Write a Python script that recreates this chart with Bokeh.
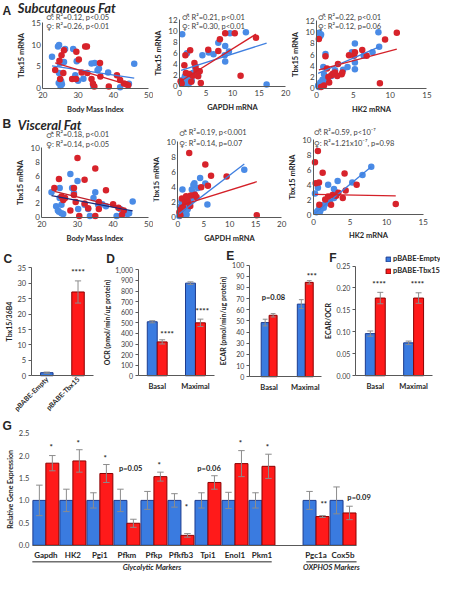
import math
import numpy as np
from bokeh.plotting import figure
from bokeh.models import (Range1d, FixedTicker, Label, Legend, LegendItem,
                          NumeralTickFormatter)
from bokeh.layouts import row, column
from bokeh.embed import file_html
from bokeh.resources import INLINE
from bokeh.core.properties import value

# ------------------------------------------------------------------ data
# Panel A  (subcutaneous fat)   blue = male, red = female
A_BMI_BLUE_X = [22.6, 24.3, 24.6, 24.8, 24.6, 24.5, 25.0, 25.4, 25.2, 26.3, 28.6, 29.6, 30.0, 29.2,
                33.8, 34.7, 35.9, 35.5, 34.3, 38.5, 41.9, 44.4, 45.9, 26.0, 31.5]
A_BMI_BLUE_Y = [7.2, 9.6, 9.9, 5.7, 3.5, 1.2, 0.5, 0.9, 1.6, 9.0, 9.0, 6.2, 1.7, 3.0,
                5.7, 5.8, 4.5, 4.1, 0.5, 3.6, 0.2, 1.0, 5.6, 6.0, 2.2]
A_BMI_RED_X = [23.5, 24.7, 25.3, 26.0, 24.9, 25.8, 29.5, 32.0, 32.5, 30.2, 28.3, 29.4, 31.0, 32.6,
               36.2, 33.8, 34.2, 34.6, 36.3, 38.7, 41.0, 41.9, 43.0, 43.6, 44.2]
A_BMI_RED_Y = [4.2, 6.3, 7.6, 8.7, 2.1, 3.5, 8.4, 9.6, 9.6, 6.6, 2.1, 2.1, 3.6, 3.5,
               5.8, 2.1, 1.0, 0.4, 2.7, 0.4, 3.0, 1.9, 1.1, 0.9, 0.7]
A_BMI_FIT_BLUE = (7.85, -0.121)   # intercept, slope
A_BMI_FIT_RED = (11.55, -0.244)
A_BMI_STATS = ["\u2642: R\u00b2=0.12, p<0.05", "\u2640: R\u00b2=0.26, p<0.01"]

A_GAPDH_BLUE_X = [0.5, 0.3, 0.6, 0.9, 1.0, 1.2, 1.4, 1.5, 1.7, 2.0, 2.5, 3.0, 3.5, 4.3, 5.5, 6.4,
                  7.3, 8.6, 8.5, 8.6, 9.5, 9.3, 12.5, 16.4, 2.3]
A_GAPDH_BLUE_Y = [9.4, 0.8, 1.2, 0.5, 1.8, 1.0, 6.0, 2.2, 0.4, 1.5, 2.4, 3.2, 2.0, 5.6, 6.1, 5.8,
                  7.9, 7.3, 5.6, 4.5, 9.6, 6.3, 9.8, 0.3, 1.0]
A_GAPDH_RED_X = [0.2, 0.4, 0.9, 1.1, 2.0, 1.2, 1.8, 2.5, 2.8, 3.2, 3.8, 3.5, 4.0, 2.2, 5.4, 7.3,
                 7.6, 8.6, 10.4, 11.5, 14.4, 3.0]
A_GAPDH_RED_Y = [0.9, 0.5, 3.8, 5.6, 6.5, 2.4, 2.2, 1.9, 4.2, 2.8, 2.7, 1.8, 0.6, 0.8, 6.6, 6.4,
                 8.5, 9.6, 9.6, 1.9, 8.8, 3.6]
A_GAPDH_FIT_BLUE = (2.79, 0.306)
A_GAPDH_FIT_RED = (0.78, 0.601)
A_GAPDH_STATS = ["\u2642: R\u00b2=0.21, p<0.01", "\u2640: R\u00b2=0.30, p<0.01"]

A_HK2_BLUE_X = [0.35, 0.6, 0.5, 1.2, 0.9, 0.2, 0.3, 0.5, 0.8, 1.0, 1.4, 1.6, 2.5, 3.6, 4.2, 4.8,
                5.2, 5.2, 5.2, 6.4, 7.6, 8.5, 8.4, 2.0, 1.0]
A_HK2_BLUE_Y = [9.9, 9.6, 9.3, 6.1, 3.8, 0.5, 0.2, 1.0, 1.5, 0.9, 1.8, 1.1, 3.2, 3.3, 3.8, 6.4,
                8.0, 4.6, 3.4, 5.8, 6.4, 7.4, 10.0, 2.2, 2.5]
A_HK2_RED_X = [0.3, 1.2, 1.4, 1.0, 2.0, 2.2, 2.5, 2.8, 3.4, 2.9, 3.5, 4.4, 5.1, 5.2, 6.2, 6.8,
               8.6, 9.3, 10.9, 1.7, 0.6, 1.6]
A_HK2_RED_Y = [8.8, 5.7, 3.5, 0.5, 2.3, 2.6, 2.8, 2.2, 2.5, 4.3, 2.8, 5.9, 5.8, 6.4, 6.8, 5.8,
               0.9, 8.7, 9.9, 1.0, 0.2, 2.0]
A_HK2_FIT_BLUE = (2.54, 0.571)
A_HK2_FIT_RED = (3.16, 0.352)
A_HK2_STATS = ["\u2642: R\u00b2=0.22, p<0.01", "\u2640: R\u00b2=0.12, p=0.06"]

# Panel B  (visceral fat)
B_BMI_BLUE_X = [22.7, 24.0, 24.5, 25.0, 25.0, 25.5, 25.5, 24.8, 26.0, 28.0, 28.5, 29.0, 30.0, 30.2,
                32.0, 33.0, 33.5, 34.5, 35.0, 35.8, 37.0, 38.0, 41.0, 42.0, 44.0, 44.5, 45.5]
B_BMI_BLUE_Y = [3.6, 1.6, 1.0, 4.2, 2.8, 1.8, 0.6, 0.8, 0.5, 6.2, 4.2, 3.5, 5.2, 1.2,
                1.8, 1.2, 0.2, 2.8, 3.6, 1.8, 1.9, 1.6, 0.2, 1.2, 0.5, 0.6, 2.3]
B_BMI_RED_X = [23.5, 24.8, 25.5, 26.0, 26.5, 28.0, 29.0, 29.0, 29.5, 30.0, 30.5, 32.0, 32.0, 33.0,
               35.0, 35.0, 36.0, 36.0, 38.0, 40.0, 41.5, 42.5, 43.0]
B_BMI_RED_Y = [4.2, 5.5, 3.0, 2.5, 2.8, 1.0, 3.2, 4.2, 2.2, 8.5, 0.2, 5.4, 2.0, 1.3,
               7.0, 0.2, 2.2, 1.2, 3.9, 1.9, 1.4, 0.4, 1.0]
B_BMI_FIT_BLUE = (5.30, -0.0955)
B_BMI_FIT_RED = (6.65, -0.124)
B_BMI_STATS = ["\u2642: R\u00b2=0.18, p<0.01", "\u2640: R\u00b2=0.14, p<0.05"]

B_GAPDH_BLUE_X = [4.3, 3.2, 3.0, 3.9, 5.3, 0.9, 2.7, 12.8, 5.7, 3.1, 0.3, 0.5, 0.8, 1.1, 1.4, 1.7,
                  0.4, 0.7, 1.0, 1.2, 1.9, 2.0, 2.4, 2.8, 1.5]
B_GAPDH_BLUE_Y = [5.2, 4.5, 4.3, 3.9, 4.5, 3.7, 3.7, 6.3, 1.7, 3.2, 0.2, 0.6, 0.4, 1.0, 1.3, 0.4,
                  1.4, 2.1, 1.7, 2.3, 1.1, 1.6, 2.2, 2.6, 0.8]
B_GAPDH_RED_X = [2.2, 5.3, 6.4, 4.5, 5.8, 9.4, 15.2, 0.8, 1.4, 1.9, 3.3, 2.5, 2.4, 0.6, 0.3, 1.0,
                 0.5, 3.6, 1.6]
B_GAPDH_RED_Y = [8.5, 7.0, 5.5, 4.0, 4.2, 5.4, 0.3, 2.5, 2.0, 2.2, 3.0, 2.9, 1.5, 1.1, 0.7, 1.3,
                 0.3, 2.7, 2.8]
B_GAPDH_FIT_BLUE = (0.35, 0.523)
B_GAPDH_FIT_RED = (1.48, 0.213)
B_GAPDH_STATS = ["\u2642: R\u00b2=0.19, p<0.001", "\u2640: R\u00b2=0.14, p=0.07"]

B_HK2_BLUE_X = [0.6, 0.2, 2.0, 3.3, 5.3, 6.7, 7.9, 2.8, 3.1, 0.4, 0.6, 0.8, 1.0, 1.2, 1.5, 1.7,
                2.0, 2.3, 2.6, 2.8, 3.0, 1.4, 0.9, 2.2]
B_HK2_BLUE_Y = [3.6, 2.8, 4.0, 4.5, 4.3, 5.3, 6.4, 3.4, 2.7, 0.3, 0.5, 0.9, 0.7, 1.2, 1.3, 1.5,
                1.8, 2.0, 2.4, 2.2, 3.0, 0.9, 0.4, 1.6]
B_HK2_RED_X = [0.6, 0.2, 0.3, 0.75, 1.25, 4.25, 5.9, 11.25, 4.4, 4.0, 2.4, 3.1, 0.8, 1.6, 2.0,
               2.6, 3.4]
B_HK2_RED_Y = [8.5, 7.0, 4.2, 4.3, 5.6, 5.5, 4.0, 1.4, 3.2, 2.2, 1.3, 2.5, 1.3, 2.0, 2.4,
               2.6, 2.9]
B_HK2_FIT_BLUE = (0.02, 0.808)
B_HK2_FIT_RED = (2.70, -0.018)
B_HK2_STATS = ["\u2642: R\u00b2=0.59, p<10\u207b\u2077", "\u2640: R\u00b2=1.21x10\u207b\u2077, p=0.98"]

# Panel C
C_GROUPS = ["pBABE-Empty", "pBABE-Tbx15"]
C_VALUES = [1.0, 27.2]
C_ERRORS = [0.2, 3.6]
C_SIG = "****"

# Panels D-F
CONDITIONS = ["Basal", "Maximal"]
D_EMPTY = [510, 875]
D_EMPTY_ERR = [10, 12]
D_TBX15 = [320, 500]
D_TBX15_ERR = [20, 35]
D_SIG = ["****", "****"]

E_EMPTY = [48.5, 65.0]
E_EMPTY_ERR = [3.0, 4.0]
E_TBX15 = [55.0, 84.5]
E_TBX15_ERR = [1.5, 1.5]
E_SIG = ["p=0.08", "***"]

F_EMPTY = [0.096, 0.075]
F_EMPTY_ERR = [0.006, 0.004]
F_TBX15 = [0.177, 0.177]
F_TBX15_ERR = [0.013, 0.012]
F_SIG = ["****", "****"]

# Panel G
G_GENES = ["Gapdh", "HK2", "Pgi1", "Pfkm", "Pfkp", "Pfkfb3", "Tpi1", "Enol1", "Pkm1", "Pgc1a", "Cox5b"]
G_GROUP = ["Glycolytic Markers"] * 9 + ["OXPHOS Markers"] * 2
G_EMPTY = [1.0] * 11
G_EMPTY_ERR = [0.34, 0.25, 0.17, 0.25, 0.20, 0.15, 0.17, 0.18, 0.17, 0.20, 0.30]
G_TBX15 = [1.83, 1.88, 1.60, 0.49, 1.53, 0.22, 1.40, 1.82, 1.76, 0.64, 0.72]
G_TBX15_ERR = [0.17, 0.25, 0.20, 0.09, 0.10, 0.04, 0.15, 0.29, 0.27, 0.02, 0.15]
G_SIG = ["*", "*", "*", "p=0.05", "*", "*", "p=0.06", "*", "*", "**", "p=0.09"]

# ------------------------------------------------------------------ style
SX = 440 / 456
SY = 574 / 590
FONT = "Lato"
SYMFONT = "DejaVu Sans"
TXT = "#262626"
AXC = "#595959"
PT_BLUE = "#4a8be6"
PT_RED = "#d7232b"
BAR_BLUE = "#3a7be0"
BAR_BLUE_EDGE = "#1d3c8f"
BAR_RED = "#ff1a1a"
BAR_RED_EDGE = "#8c0000"
ERR = "#8c8c8c"


def to_data(geo, px, py):
    (xa, xb), (ya, yb) = geo["xr"], geo["yr"]
    x = xa + (px - geo["fl"]) / (geo["fr"] - geo["fl"]) * (xb - xa)
    y = ya + (geo["fb"] - py) / (geo["fb"] - geo["ft"]) * (yb - ya)
    return x, y


def make_fig(x0, x1, y0, y1, fl, fr, ft, fb, xr, yr):
    """Figure whose plotting frame fills the whole canvas; the axes are drawn at
    fixed data locations so that everything (letters, notes) stays visible."""
    w = round(x1 * SX) - round(x0 * SX)
    h = round(y1 * SY) - round(y0 * SY)
    geo = dict(fl=fl, fr=fr, ft=ft, fb=fb, xr=xr, yr=yr)
    X0, _ = to_data(geo, x0, 0)
    X1, _ = to_data(geo, x1, 0)
    _, Y1 = to_data(geo, 0, y0)
    _, Y0 = to_data(geo, 0, y1)
    p = figure(width=w, height=h, x_range=Range1d(X0, X1), y_range=Range1d(Y0, Y1),
               output_backend="svg", toolbar_location=None,
               min_border=0, min_border_left=0, min_border_right=0,
               min_border_top=0, min_border_bottom=0)
    p.title.visible = False
    p.outline_line_color = None
    p.xgrid.visible = False
    p.ygrid.visible = False
    p.background_fill_color = "white"
    p.border_fill_color = "white"
    p.xaxis.fixed_location = yr[0]
    p.xaxis.bounds = xr
    p.yaxis.fixed_location = xr[0]
    p.yaxis.bounds = yr
    return p, geo


def label_px(p, geo, px, py, text, size, style="normal", align="left", color=TXT, font=FONT):
    x, y = to_data(geo, px, py)
    p.add_layout(Label(x=x, y=y, text=text, text_font=font, text_font_size=f"{size}px",
                       text_font_style=style, text_align=align, text_baseline="middle",
                       text_color=color))


def label_data(p, x, y, text, size=7.5, style="bold", align="center"):
    p.add_layout(Label(x=x, y=y, text=text, text_font=FONT, text_font_size=f"{size}px",
                       text_font_style=style, text_align=align, text_baseline="middle",
                       text_color=TXT))


def style_axis(ax, label, tick_size=8, label_size=7.5, tick_out=0, line_color=AXC):
    ax.axis_label = label
    ax.axis_line_color = line_color
    ax.axis_line_width = 1
    ax.major_tick_out = tick_out
    ax.major_tick_in = 0
    ax.major_tick_line_color = AXC if tick_out else None
    ax.minor_tick_line_color = None
    ax.minor_tick_out = 0
    ax.minor_tick_in = 0
    ax.major_label_text_font = FONT
    ax.major_label_text_font_size = f"{tick_size}px"
    ax.major_label_text_color = "#404040"
    ax.axis_label_text_font = FONT
    ax.axis_label_text_font_size = f"{label_size}px"
    ax.axis_label_text_font_style = "bold"
    ax.axis_label_text_color = TXT
    ax.major_label_standoff = 2
    ax.axis_label_standoff = 2


def stats_text(p, geo, px, py, s):
    # sex symbol in a font that has it, then the statistics
    label_px(p, geo, px, py, s[0], 8.5, color="#595959", font=SYMFONT)
    label_px(p, geo, px + 6.5, py, s[1:], 7.5, color="#404040")


def scatter_panel(geom, xr, yr, xticks, yticks, bx, by, rx, ry, fit_b, fit_r,
                  line_b, line_r, xlabel, stats, stats_px):
    p, geo = make_fig(*geom, xr, yr)
    p.scatter(bx, by, size=6.5, fill_color=PT_BLUE, line_color=None)
    p.scatter(rx, ry, size=6.5, fill_color=PT_RED, line_color=None)
    for xs, fit, col in ((bx, fit_b, line_b), (rx, fit_r, line_r)):
        lo, hi = min(xs), max(xs)
        p.line([lo, hi], [fit[0] + fit[1] * lo, fit[0] + fit[1] * hi], line_color=col, line_width=1.3)
    style_axis(p.xaxis[0], xlabel)
    style_axis(p.yaxis[0], "Tbx15 mRNA")
    p.xaxis.major_label_standoff = 4
    p.xaxis.axis_label_standoff = 3
    p.xaxis.ticker = FixedTicker(ticks=xticks)
    p.yaxis.ticker = FixedTicker(ticks=yticks)
    sx, sy1, sy2 = stats_px
    stats_text(p, geo, sx, sy1, stats[0])
    stats_text(p, geo, sx, sy2, stats[1])
    return p, geo


def errbars(p, xs, v, e, cap):
    xs = np.asarray(xs, float)
    v = np.asarray(v, float)
    e = np.asarray(e, float)
    p.segment(xs, v - e, xs, v + e, line_color=ERR, line_width=1)
    p.segment(xs - cap, v + e, xs + cap, v + e, line_color=ERR, line_width=1)
    p.segment(xs - cap, v - e, xs + cap, v - e, line_color=ERR, line_width=1)


def pair_panel(geom, xr, yr, yticks, fmt, ylabel, v1, e1, v2, e2, width):
    p, geo = make_fig(*geom, xr, yr)
    xs = np.arange(len(CONDITIONS), dtype=float)
    r1 = p.vbar(x=xs - width / 2, top=v1, width=width, fill_color=BAR_BLUE,
                line_color=BAR_BLUE_EDGE, line_width=1)
    r2 = p.vbar(x=xs + width / 2, top=v2, width=width, fill_color=BAR_RED,
                line_color=BAR_RED_EDGE, line_width=1)
    errbars(p, xs - width / 2, v1, e1, width * 0.3)
    errbars(p, xs + width / 2, v2, e2, width * 0.3)
    style_axis(p.yaxis[0], ylabel, tick_size=7, label_size=7, tick_out=3)
    style_axis(p.xaxis[0], "", tick_size=7.5)
    p.xaxis.major_label_text_font_style = "bold"
    p.xaxis.major_label_text_color = TXT
    p.yaxis.ticker = FixedTicker(ticks=yticks)
    p.yaxis.formatter = NumeralTickFormatter(format=fmt)
    p.xaxis.ticker = FixedTicker(ticks=list(range(len(CONDITIONS))))
    p.xaxis.major_label_overrides = {i: c for i, c in enumerate(CONDITIONS)}
    p.xaxis.major_label_standoff = 6
    return p, geo, r1, r2


# ------------------------------------------------------------------ row A
a1, ga1 = scatter_panel((0, 159, 0, 118, 44, 154, 23, 90), (20, 50), (0, 15), [20, 30, 40, 50], [0, 5, 10, 15],
                        A_BMI_BLUE_X, A_BMI_BLUE_Y, A_BMI_RED_X, A_BMI_RED_Y, A_BMI_FIT_BLUE, A_BMI_FIT_RED,
                        "#3f7fe0", "#d42028", "Body Mass Index", A_BMI_STATS, (47, 17, 27))
label_px(a1, ga1, 2, 11, "A", 12, style="bold", font="Liberation Sans")
label_px(a1, ga1, 18, 8, "Subcutaneous Fat", 13, style="bold italic")

a2, ga2 = scatter_panel((159, 302, 0, 118, 186, 296, 20, 88), (0, 20), (0, 12), [0, 5, 10, 15, 20],
                        [0, 2, 4, 6, 8, 10, 12],
                        A_GAPDH_BLUE_X, A_GAPDH_BLUE_Y, A_GAPDH_RED_X, A_GAPDH_RED_Y, A_GAPDH_FIT_BLUE,
                        A_GAPDH_FIT_RED, "#3f7fe0", "#d42028", "GAPDH mRNA", A_GAPDH_STATS, (188, 17, 27))

a3, ga3 = scatter_panel((302, 456, 0, 118, 328, 442, 21, 90), (0, 15), (0, 12), [0, 5, 10, 15],
                        [0, 2, 4, 6, 8, 10, 12],
                        A_HK2_BLUE_X, A_HK2_BLUE_Y, A_HK2_RED_X, A_HK2_RED_Y, A_HK2_FIT_BLUE,
                        A_HK2_FIT_RED, "#3f7fe0", "#d42028", "HK2 mRNA", A_HK2_STATS, (329, 17, 27))

# ------------------------------------------------------------------ row B
b1, gb1 = scatter_panel((0, 159, 118, 256, 43, 154, 151, 223), (20, 50), (0, 10), [20, 30, 40, 50],
                        [0, 2, 4, 6, 8, 10],
                        B_BMI_BLUE_X, B_BMI_BLUE_Y, B_BMI_RED_X, B_BMI_RED_Y, B_BMI_FIT_BLUE, B_BMI_FIT_RED,
                        "#1b2a7a", "#c0202a", "Body Mass Index", B_BMI_STATS, (47, 138, 148))
label_px(b1, gb1, 2, 127, "B", 12, style="bold", font="Liberation Sans")
label_px(b1, gb1, 18, 128, "Visceral Fat", 13, style="bold italic")

b2, gb2 = scatter_panel((159, 298, 118, 256, 184, 291, 145, 223), (0, 20), (0, 10), [0, 5, 10, 15, 20],
                        [0, 2, 4, 6, 8, 10],
                        B_GAPDH_BLUE_X, B_GAPDH_BLUE_Y, B_GAPDH_RED_X, B_GAPDH_RED_Y, B_GAPDH_FIT_BLUE,
                        B_GAPDH_FIT_RED, "#3f7fe0", "#d42028", "GAPDH mRNA", B_GAPDH_STATS, (185, 136, 147))

b3, gb3 = scatter_panel((298, 456, 118, 256, 324, 438, 143, 220), (0, 15), (0, 10), [0, 5, 10, 15],
                        [0, 2, 4, 6, 8, 10],
                        B_HK2_BLUE_X, B_HK2_BLUE_Y, B_HK2_RED_X, B_HK2_RED_Y, B_HK2_FIT_BLUE,
                        B_HK2_FIT_RED, "#3f7fe0", "#d42028", "HK2 mRNA", B_HK2_STATS, (324, 135, 147))

# ------------------------------------------------------------------ row C-F
c, gc = make_fig(0, 100, 256, 430, 32, 97, 275, 386, (-0.5, 1.5), (0, 35))
cx = np.arange(len(C_GROUPS), dtype=float)
c.vbar(x=cx, top=C_VALUES, width=0.4, fill_color=[BAR_BLUE, BAR_RED],
       line_color=[BAR_BLUE_EDGE, BAR_RED_EDGE], line_width=1)
errbars(c, cx, C_VALUES, C_ERRORS, 0.1)
style_axis(c.yaxis[0], "Tbx15/36B4", tick_size=7.5, label_size=7, tick_out=3)
style_axis(c.xaxis[0], "", tick_size=7)
c.yaxis.ticker = FixedTicker(ticks=[0, 5, 10, 15, 20, 25, 30, 35])
c.xaxis.ticker = FixedTicker(ticks=[0, 1])
c.xaxis.major_label_overrides = {i: g for i, g in enumerate(C_GROUPS)}
c.xaxis.major_label_orientation = math.pi / 4
c.xaxis.major_label_text_font_style = "bold"
c.xaxis.major_label_text_color = TXT
label_data(c, 1, C_VALUES[1] + C_ERRORS[1] + 3.0, C_SIG, size=8)
label_px(c, gc, 3, 266, "C", 12, style="bold", font="Liberation Sans")

d, gd, _, _ = pair_panel((100, 224, 256, 430, 143, 222, 277, 386), (-0.5, 1.5), (0, 1000),
                         list(range(0, 1001, 100)), "0,0", "OCR (pmol/min/ug protein)",
                         D_EMPTY, D_EMPTY_ERR, D_TBX15, D_TBX15_ERR, 0.26)
label_data(d, 0.26, D_TBX15[0] + D_TBX15_ERR[0] + 55, D_SIG[0], size=8)
label_data(d, 1.18, D_TBX15[1] + D_TBX15_ERR[1] + 80, D_SIG[1], size=8)
label_px(d, gd, 110, 266, "D", 12, style="bold", font="Liberation Sans")

e, ge, _, _ = pair_panel((224, 334, 256, 430, 258, 333, 272, 387), (-0.55, 1.45), (0, 100),
                         list(range(0, 101, 10)), "0", "ECAR (pmol/min/ug protein)",
                         E_EMPTY, E_EMPTY_ERR, E_TBX15, E_TBX15_ERR, 0.22)
label_data(e, 0.12, E_TBX15[0] + E_TBX15_ERR[0] + 14, E_SIG[0], size=7.5)
label_data(e, 1.18, E_TBX15[1] + E_TBX15_ERR[1] + 4.5, E_SIG[1], size=8)
label_px(e, ge, 234, 263, "E", 12, style="bold", font="Liberation Sans")

f, gf, rf1, rf2 = pair_panel((334, 456, 256, 430, 368, 448, 273, 386), (-0.52, 1.5), (0, 0.25),
                             [0, 0.05, 0.10, 0.15, 0.20, 0.25], "0.00", "ECAR/OCR",
                             F_EMPTY, F_EMPTY_ERR, F_TBX15, F_TBX15_ERR, 0.26)
label_data(f, 0.1, F_TBX15[0] + F_TBX15_ERR[0] + 0.02, F_SIG[0], size=8)
label_data(f, 1.1, F_TBX15[1] + F_TBX15_ERR[1] + 0.02, F_SIG[1], size=8)
label_px(f, gf, 341, 265, "F", 12, style="bold", font="Liberation Sans")
legend = Legend(items=[LegendItem(label="pBABE-Empty", renderers=[rf1]),
                       LegendItem(label="pBABE-Tbx15", renderers=[rf2])],
                location=(round((399 - 334) * SX), round((430 - 284) * SY)),
                label_text_font=FONT, label_text_font_size="7.5px", label_text_font_style="bold",
                label_text_color=TXT, glyph_width=6, glyph_height=6, label_height=11,
                label_standoff=2, spacing=1, padding=0, margin=0,
                border_line_color=None, background_fill_alpha=0)
f.add_layout(legend)

# ------------------------------------------------------------------ row G
g, gg = make_fig(0, 456, 430, 590, 33, 369, 445, 560, (-0.5, 11.5), (0, 2.5))
# positions: leave one empty slot between the two marker groups
pos = []
k = 0
for i, grp in enumerate(G_GROUP):
    if i > 0 and grp != G_GROUP[i - 1]:
        k += 1
    pos.append(float(k))
    k += 1
pos = np.array(pos)
W = 0.48
g.vbar(x=pos - W / 2, top=G_EMPTY, width=W, fill_color=BAR_BLUE, line_color=BAR_BLUE_EDGE, line_width=1)
g.vbar(x=pos + W / 2, top=G_TBX15, width=W, fill_color=BAR_RED, line_color=BAR_RED_EDGE, line_width=1)
errbars(g, pos - W / 2, G_EMPTY, G_EMPTY_ERR, 0.12)
errbars(g, pos + W / 2, G_TBX15, G_TBX15_ERR, 0.12)
style_axis(g.yaxis[0], "Relative Gene Expression", tick_size=7.5, label_size=7, line_color=None)
style_axis(g.xaxis[0], "", tick_size=8)
g.yaxis.major_label_standoff = 3
g.yaxis.ticker = FixedTicker(ticks=[0, 0.5, 1.0, 1.5, 2.0, 2.5])
g.yaxis.formatter = NumeralTickFormatter(format="0.0")
g.xaxis.ticker = FixedTicker(ticks=list(pos))
g.xaxis.major_label_overrides = {float(p_): n for p_, n in zip(pos, G_GENES)}
g.xaxis.major_label_text_font_style = "bold"
g.xaxis.major_label_text_color = TXT
g.xaxis.major_label_standoff = 5

# significance labels (x offset from group centre, y of label centre, alignment)
sig_layout = [(0.2, 2.2, "center"), (0.2, 2.28, "center"), (0.2, 1.94, "center"), (0.14, 1.72, "center"),
              (0.2, 1.78, "center"), (0.2, 0.85, "center"), (0.04, 1.72, "center"), (0.2, 2.28, "center"),
              (0.2, 2.2, "center"), (0.29, 0.91, "center"), (0.16, 1.07, "left")]
for (dx, yy, al), s, p_ in zip(sig_layout, G_SIG, pos):
    label_data(g, p_ + dx, yy, s, size=7.5 if s.startswith("p") else 8, align=al)

# group brackets and names
for grp in ["Glycolytic Markers", "OXPHOS Markers"]:
    gp = pos[[i for i, x in enumerate(G_GROUP) if x == grp]]
    lo = gp.min() - 0.5 if grp == G_GROUP[0] else gp.min() - 0.36
    hi = gp.max() + 0.36 if grp == G_GROUP[0] else gp.max() + 0.5
    g.segment(x0=[lo], y0=[-0.37], x1=[hi], y1=[-0.37], line_color="#262626", line_width=1)
    g.text(x=[(lo + hi) / 2], y=[-0.5], text=[grp], text_font=value(FONT), text_font_size="7.5px",
           text_font_style="bold italic", text_align="center", text_baseline="middle", text_color=TXT)
label_px(g, gg, 2, 438, "G", 12, style="bold", font="Liberation Sans")

layout = column(row(a1, a2, a3), row(b1, b2, b3), row(c, d, e, f), g)
open("out.html", "w").write(file_html(layout, INLINE))
